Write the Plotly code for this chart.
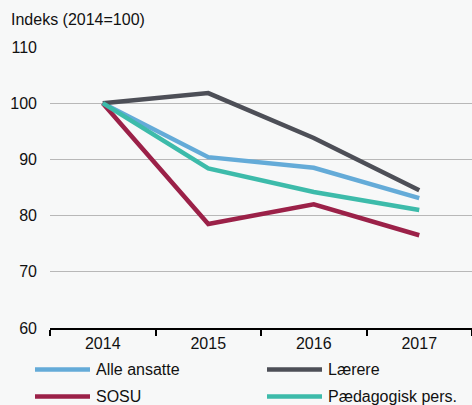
import plotly.graph_objects as go

years = ["2014", "2015", "2016", "2017"]
alle_ansatte = [100, 90.4, 88.5, 83.1]
laerere = [100, 101.8, 93.8, 84.5]
sosu = [100, 78.5, 82.0, 76.5]
paedagogisk = [100, 88.4, 84.2, 81.0]
series_names = ["Alle ansatte", "Lærere", "SOSU", "Pædagogisk pers."]
y_ticks = [60, 70, 80, 90, 100, 110]

colors = ["#64abd8", "#4d4f57", "#9b2148", "#3dbbaa"]
series = [alle_ansatte, laerere, sosu, paedagogisk]
FONT = "Liberation Sans, Arial, sans-serif"
BG = "#f7f8f8"

fig = go.Figure()
for name, vals, c in zip(series_names, series, colors):
    fig.add_trace(go.Scatter(x=years, y=vals, name=name, mode="lines",
                             line=dict(color=c, width=4.5), showlegend=False))

W, H = 472, 405
L, R, T, B = 50, 0, 47, 77
pw, ph = W - L - R, H - T - B

def px(x):
    return (x - L) / pw

def py(y):
    return (H - B - y) / ph

# custom legend (two columns)
legend_pos = [(35, 90, 94, 369.5), (267, 322, 326, 369.5),
              (35, 90, 94, 396.5), (267, 322, 326, 396.5)]
shapes = []
annotations = []
for (x0, x1, xt, yy), name, c in zip(legend_pos, series_names, colors):
    shapes.append(dict(type="line", xref="paper", yref="paper",
                       x0=px(x0), x1=px(x1), y0=py(yy), y1=py(yy),
                       line=dict(color=c, width=4.5)))
    annotations.append(dict(text=name, xref="paper", yref="paper",
                            x=px(xt), y=py(yy), xanchor="left", yanchor="middle",
                            showarrow=False, font=dict(size=16, color="#111111", family=FONT)))

annotations.append(dict(text="Indeks (2014=100)", xref="paper", yref="paper",
                        x=px(9), y=py(20), xanchor="left", yanchor="middle",
                        showarrow=False, font=dict(size=16, color="#111111", family=FONT)))

fig.update_layout(
    width=W, height=H,
    margin=dict(l=L, r=R, t=T, b=B, pad=0),
    paper_bgcolor=BG, plot_bgcolor=BG,
    font=dict(family=FONT, size=16, color="#111111"),
    shapes=shapes, annotations=annotations,
    showlegend=False,
)
fig.update_xaxes(type="category", tickson="boundaries", ticks="outside",
                 ticklen=6, tickwidth=2, tickcolor="#000000",
                 showline=True, linecolor="#000000", linewidth=2,
                 showgrid=False, zeroline=False, range=[-0.5, 3.5],
                 tickfont=dict(size=16, family=FONT, color="#111111"))
fig.update_yaxes(range=[60, 110], tickvals=y_ticks, showgrid=True,
                 gridcolor="#b8b8b8", gridwidth=1, zeroline=False,
                 showline=False, ticks="", ticklabelstandoff=12,
                 tickfont=dict(size=16, family=FONT, color="#111111"))

fig.write_html("out.html", config={"displayModeBar": False}, post_script=(
    "document.body.style.margin='0';document.body.style.padding='0';"
    "document.body.style.overflow='hidden';"
    "document.body.style.background='" + BG + "';"))
